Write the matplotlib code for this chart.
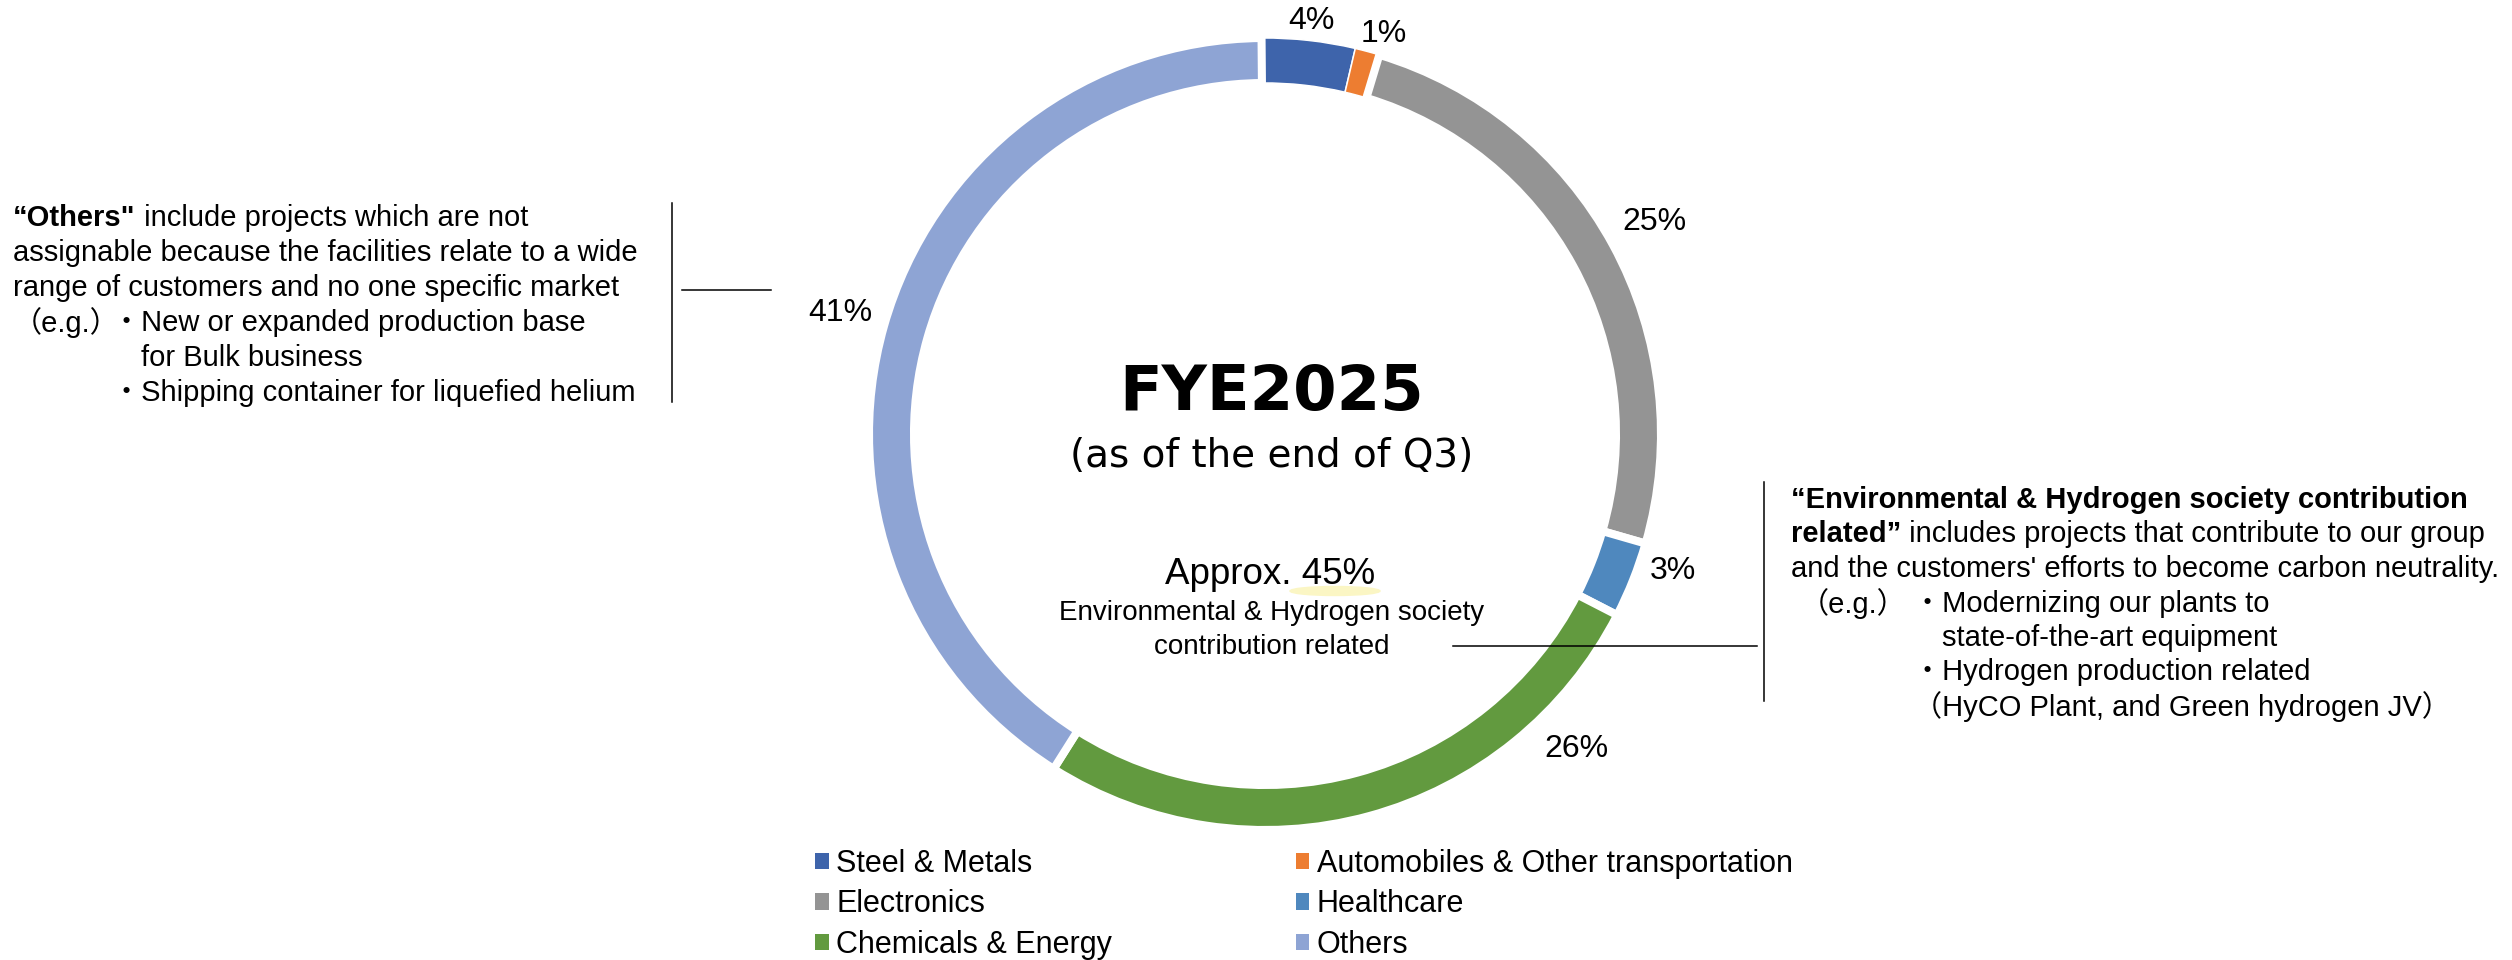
import matplotlib
matplotlib.use("Agg")
import matplotlib.pyplot as plt
from matplotlib.patches import Ellipse, Patch
import numpy as np

# ---------------- data ----------------
categories = ["Steel & Metals", "Automobiles & Other transportation", "Electronics",
              "Healthcare", "Chemicals & Energy", "Others"]
shares = [3.8, 1.0, 24.8, 3.1, 26.4, 40.9]
colors = ["#3E64AB", "#ED7D31", "#949494", "#4F88BE", "#629A3F", "#8EA4D4"]

title_main = "FYE2025"
title_sub = "(as of the end of Q3)"
center_big = "Approx. 45%"
center_small = ["Environmental & Hydrogen society", "contribution related"]

left_bold = "“Others\""
left_lines = [" include projects which are not",
              "assignable because the facilities relate to a wide",
              "range of customers and no one specific market"]
left_eg = "（e.g.）"
left_items = ["・New or expanded production base", "for Bulk business",
              "・Shipping container for liquefied helium"]

right_bold = ["“Environmental & Hydrogen society contribution", "related”"]
right_lines = [" includes projects that contribute to our group",
               "and the customers' efforts to become carbon neutrality."]
right_eg = "（e.g.）"
right_items = ["・Modernizing our plants to", "state-of-the-art equipment",
               "・Hydrogen production related", "（HyCO Plant, and Green hydrogen JV）"]

# ---------------- figure ----------------
W, H = 2512, 960
DPI = 100
fig = plt.figure(figsize=(W / DPI, H / DPI), dpi=DPI)
ax = fig.add_axes([0, 0, 1, 1])


def Y(y):
    return H - y


SANS = ["Liberation Sans", "Noto Sans CJK JP", "DejaVu Sans"]

cx, cy = 1265, 434
R = 396
ring_w = 45
wedges, _ = ax.pie(shares, colors=colors, startangle=90.5, counterclock=False,
                   radius=R, center=(cx, Y(cy)),
                   wedgeprops=dict(width=ring_w, edgecolor="white", linewidth=5.8))
wedges[0].set_linewidth(1.1)
wedges[1].set_linewidth(1.1)

ax.set_xlim(0, W)
ax.set_ylim(0, H)
ax.set_aspect("auto")
ax.axis("off")

# percentage labels at data-derived mid angles
label_r = [416, 417, 444, 430, 443, 442]
label_shift = [0, 1.5, 0, -3, -29.5, 0]
cum = np.cumsum([0] + shares)
for i, v in enumerate(shares):
    mid = 90.5 - (cum[i] + v / 2) / 100 * 360 - label_shift[i]
    a = np.deg2rad(mid)
    x = cx + label_r[i] * np.cos(a)
    y = Y(cy) + label_r[i] * np.sin(a)
    ax.text(x, y, f"{v:.0f}%", ha="center", va="center", fontsize=23, family=SANS)

# centre texts
ax.text(1272, Y(393), title_main, ha="center", va="center", fontsize=45,
        fontweight="bold", family="DejaVu Sans")
ax.text(1272, Y(456), title_sub, ha="center", va="center", fontsize=28,
        family="DejaVu Sans")
ax.add_patch(Ellipse((1335, Y(591)), 90, 9, color="#FBF6C4", zorder=1))
ax.text(1270, Y(575), center_big, ha="center", va="center", fontsize=26.5,
        family=SANS, zorder=3)
ax.text(1272, Y(613), center_small[0], ha="center", va="center", fontsize=20, family=SANS)
ax.text(1272, Y(647), center_small[1], ha="center", va="center", fontsize=20, family=SANS)

renderer = fig.canvas.get_renderer()
FS = 21


def bold_then_regular(x, y, bold, regular):
    t = ax.text(x, Y(y), bold, ha="left", va="center", fontsize=FS,
                fontweight="bold", family=SANS)
    if regular:
        bb = t.get_window_extent(renderer=renderer)
        ax.text(bb.x1, Y(y), regular, ha="left", va="center", fontsize=FS, family=SANS)


# left block
lx = 13
ly = [218, 253, 288, 323, 358, 393]
bold_then_regular(lx, ly[0], left_bold, left_lines[0])
ax.text(lx, Y(ly[1]), left_lines[1], ha="left", va="center", fontsize=FS, family=SANS)
ax.text(lx, Y(ly[2]), left_lines[2], ha="left", va="center", fontsize=FS, family=SANS)
ax.text(lx, Y(ly[3]), left_eg, ha="left", va="center", fontsize=FS, family=SANS)
ax.text(112, Y(ly[3]), left_items[0], ha="left", va="center", fontsize=FS, family=SANS)
ax.text(141, Y(ly[4]), left_items[1], ha="left", va="center", fontsize=FS, family=SANS)
ax.text(112, Y(ly[5]), left_items[2], ha="left", va="center", fontsize=FS, family=SANS)

# right block
rx = 1791
ry = [500, 534.5, 569, 603.5, 638, 672.5, 707]
bold_then_regular(rx, ry[0], right_bold[0], "")
bold_then_regular(rx, ry[1], right_bold[1], right_lines[0])
ax.text(rx, Y(ry[2]), right_lines[1], ha="left", va="center", fontsize=FS, family=SANS)
ax.text(1800, Y(ry[3]), right_eg, ha="left", va="center", fontsize=FS, family=SANS)
ax.text(1913, Y(ry[3]), right_items[0], ha="left", va="center", fontsize=FS, family=SANS)
ax.text(1942, Y(ry[4]), right_items[1], ha="left", va="center", fontsize=FS, family=SANS)
ax.text(1913, Y(ry[5]), right_items[2], ha="left", va="center", fontsize=FS, family=SANS)
ax.text(1913, Y(ry[6]), right_items[3], ha="left", va="center", fontsize=FS, family=SANS)

# bracket / leader lines
lk = dict(color="black", linewidth=1.1)
ax.plot([672, 672], [Y(203), Y(402)], **lk)
ax.plot([682, 771], [Y(290), Y(290)], **lk)
ax.plot([1764, 1764], [Y(482), Y(701)], **lk)
ax.plot([1453, 1757], [Y(646), Y(646)], **lk)

# legend (row-major order like the reference)
order = [0, 2, 4, 1, 3, 5]
handles = [Patch(facecolor=colors[i], edgecolor="none", label=categories[i]) for i in order]
leg = ax.legend(handles=handles, ncol=2, loc="upper left",
                bbox_to_anchor=(815 / W, 1 - 849 / H), bbox_transform=fig.transFigure,
                frameon=False, prop=dict(family=SANS, size=22),
                handlelength=0.45, handleheight=0.45, handletextpad=0.25,
                columnspacing=6.0, labelspacing=0.34, borderpad=0, borderaxespad=0)

fig.savefig("out.png", dpi=DPI, facecolor="white")
